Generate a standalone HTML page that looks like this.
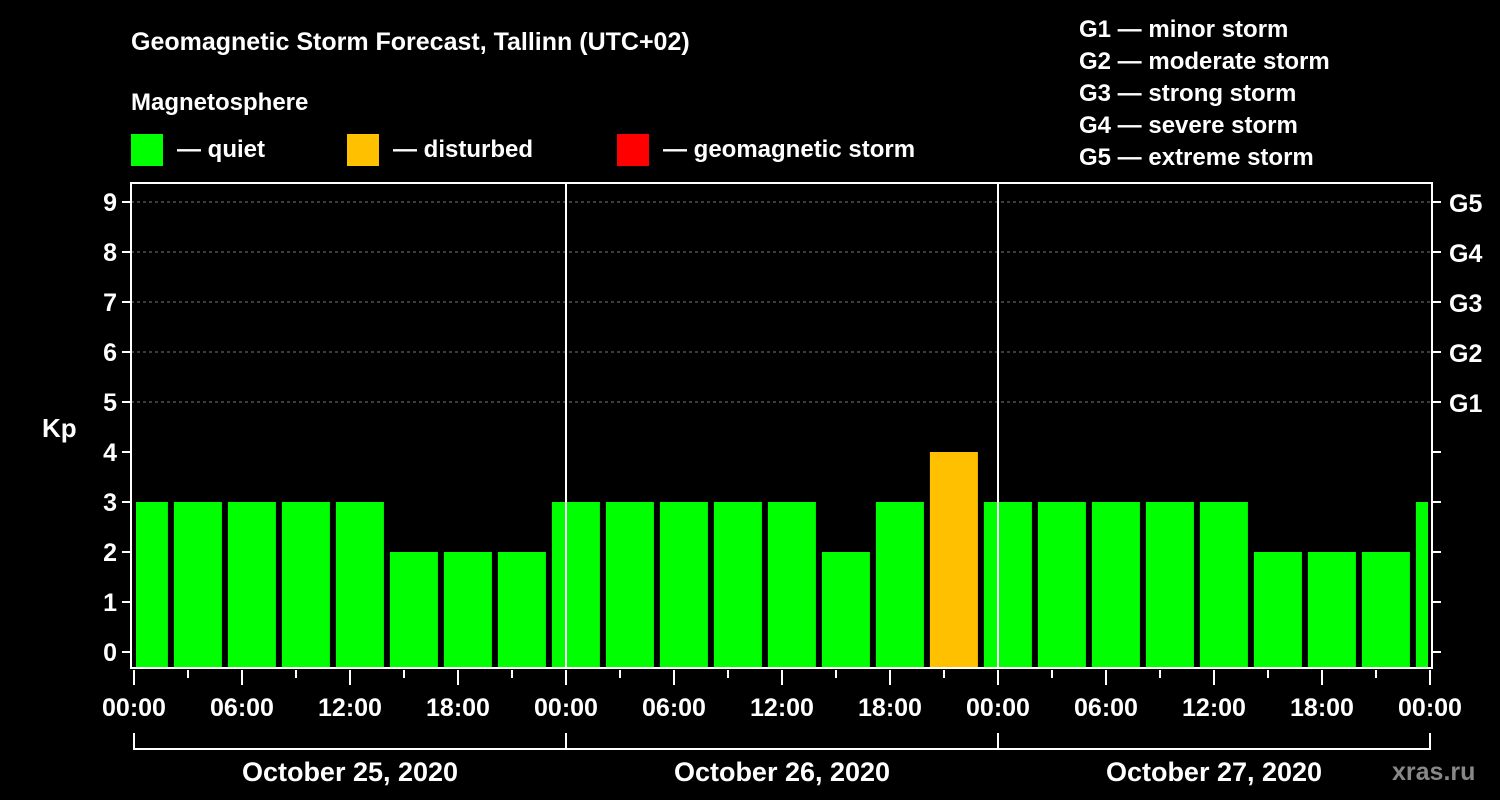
<!DOCTYPE html>
<html><head><meta charset="utf-8"><style>
html,body{margin:0;padding:0;background:#000;}
svg{display:block;font-family:"Liberation Sans",Arial,sans-serif;font-weight:bold;}
</style></head><body>
<svg id="chart" width="1500" height="800" xmlns="http://www.w3.org/2000/svg">
<rect width="1500" height="800" fill="#000"/>
<text x="131" y="50" fill="#fff" font-size="25">Geomagnetic Storm Forecast, Tallinn (UTC+02)</text>
<text x="131" y="110" fill="#fff" font-size="24">Magnetosphere</text>
<g><rect x="131" y="134" width="32" height="32" fill="#00ff00"/><text x="177" y="157" fill="#fff" font-size="24">— quiet</text></g>
<g><rect x="347" y="134" width="32" height="32" fill="#ffc000"/><text x="393" y="157" fill="#fff" font-size="24">— disturbed</text></g>
<g><rect x="617" y="134" width="32" height="32" fill="#ff0000"/><text x="663" y="157" fill="#fff" font-size="24">— geomagnetic storm</text></g>
<g fill="#fff" font-size="24">
<text x="1079" y="37">G1 — minor storm</text>
<text x="1079" y="69">G2 — moderate storm</text>
<text x="1079" y="101">G3 — strong storm</text>
<text x="1079" y="133">G4 — severe storm</text>
<text x="1079" y="165">G5 — extreme storm</text>
</g>
<text x="42" y="437" fill="#fff" font-size="26">Kp</text>
<text x="1392" y="780" fill="#888" font-size="25">xras.ru</text>
<g id="grid"></g><g id="bars"></g><g id="axes"></g>
</svg>
<script>
const values=[3,3,3,3,3,2,2,2,3,3,3,3,3,2,3,4,3,3,3,3,3,2,2,2,3];
const hourLabels=["00:00","06:00","12:00","18:00","00:00","06:00","12:00","18:00","00:00","06:00","12:00","18:00","00:00"];
const dayLabels=["October 25, 2020","October 26, 2020","October 27, 2020"];
const gLabels=["G1","G2","G3","G4","G5"];
const NS="http://www.w3.org/2000/svg";
const L=131,R=1432,T=183,B=668,X0=134;
const xh=h=>X0+h*18, yk=k=>652-50*k;
function mk(tag,a,p){const e=document.createElementNS(NS,tag);for(const k in a)e.setAttribute(k,a[k]);p.appendChild(e);return e;}
const grid=document.getElementById('grid'),bars=document.getElementById('bars'),axes=document.getElementById('axes');
for(let k=5;k<=9;k++){const l=mk('line',{x1:L,x2:R,y1:yk(k),y2:yk(k),stroke:'#777','stroke-dasharray':'3,3'},grid);

}
values.forEach((v,i)=>{const c=xh(3*i+0.55);let x1=Math.max(c-24,L+5),x2=Math.min(c+24,R-4);
const col=v>=5?'#ff0000':(v>=4?'#ffc000':'#00ff00');
const r=mk('rect',{x:x1,y:yk(v),width:x2-x1,height:B-yk(v),fill:col},bars);

});
for(let d=1;d<3;d++){const l=mk('line',{x1:xh(24*d),x2:xh(24*d),y1:T,y2:B,stroke:'#fff','stroke-width':2},axes);

}
mk('rect',{x:L,y:T,width:R-L,height:B-T,fill:'none',stroke:'#fff','stroke-width':2},axes);
for(let k=0;k<=9;k++){mk('line',{x1:L-9,x2:L,y1:yk(k),y2:yk(k),stroke:'#fff','stroke-width':2},axes);
mk('line',{x1:R,x2:R+9,y1:yk(k),y2:yk(k),stroke:'#fff','stroke-width':2},axes);
const t=mk('text',{x:L-14,y:yk(k)+9,fill:'#fff','font-size':25,'text-anchor':'end'},axes);t.textContent=k;

}
gLabels.forEach((g,i)=>{const t=mk('text',{x:R+17,y:yk(5+i)+10,fill:'#fff','font-size':25},axes);t.textContent=g;

});
for(let h=0;h<=72;h+=3){const maj=h%6===0;mk('line',{x1:xh(h),x2:xh(h),y1:670,y2:maj?685:678,stroke:'#fff','stroke-width':2},axes);}
hourLabels.forEach((s,i)=>{const t=mk('text',{x:xh(6*i),y:716,fill:'#fff','font-size':25,'text-anchor':'middle'},axes);t.textContent=s;

});
mk('line',{x1:xh(0),x2:xh(72),y1:749,y2:749,stroke:'#fff','stroke-width':2},axes);
for(let d=0;d<=3;d++)mk('line',{x1:xh(24*d),x2:xh(24*d),y1:733,y2:750,stroke:'#fff','stroke-width':2},axes);
dayLabels.forEach((s,i)=>{const t=mk('text',{x:xh(24*i+12),y:781,fill:'#fff','font-size':27,'text-anchor':'middle'},axes);t.textContent=s;

});
</script>
</body></html>
